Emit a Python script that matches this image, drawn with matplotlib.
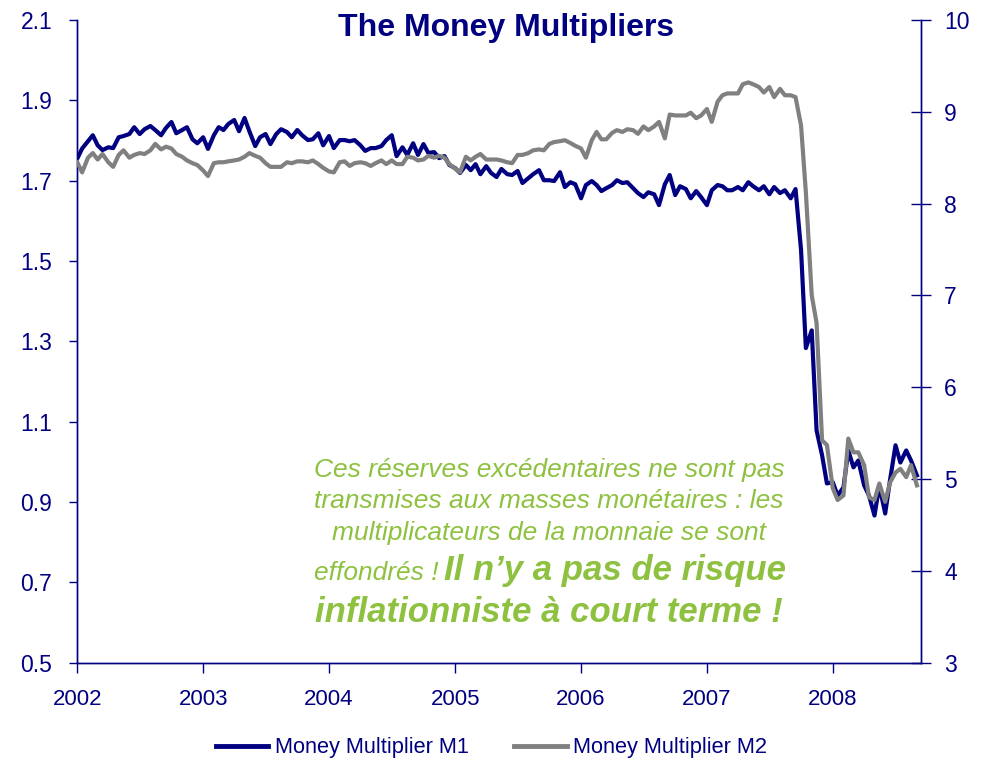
import matplotlib
matplotlib.use("Agg")
import matplotlib.pyplot as plt
from matplotlib.lines import Line2D
import pandas as pd

plt.rcParams['font.family'] = ['Liberation Sans', 'DejaVu Sans']

# semi-monthly observations, Jan 2002 - Sep 2008
dates = pd.date_range('2002-01-01', '2008-09-01', freq='SMS')

m1 = [1.755, 1.780, 1.798, 1.813, 1.788, 1.776, 1.783, 1.781, 1.808, 1.811,
      1.816, 1.833, 1.816, 1.828, 1.836, 1.826, 1.813, 1.831, 1.846, 1.818,
      1.826, 1.833, 1.803, 1.793, 1.808, 1.779, 1.813, 1.833, 1.826, 1.841,
      1.851, 1.823, 1.856, 1.823, 1.786, 1.808, 1.816, 1.791, 1.816, 1.828,
      1.821, 1.808, 1.826, 1.813, 1.801, 1.803, 1.818, 1.788, 1.811, 1.781,
      1.801, 1.801, 1.798, 1.801, 1.788, 1.774, 1.781, 1.781, 1.786, 1.801,
      1.813, 1.761, 1.783, 1.764, 1.793, 1.764, 1.791, 1.769, 1.771, 1.756,
      1.761, 1.739, 1.731, 1.719, 1.739, 1.726, 1.741, 1.716, 1.736, 1.719,
      1.709, 1.729, 1.716, 1.714, 1.724, 1.694, 1.706, 1.716, 1.726, 1.701,
      1.701, 1.699, 1.721, 1.684, 1.696, 1.691, 1.656, 1.689, 1.699, 1.689,
      1.674, 1.681, 1.689, 1.701, 1.694, 1.696, 1.681, 1.669, 1.659, 1.671,
      1.666, 1.639, 1.691, 1.714, 1.664, 1.686, 1.679, 1.656, 1.674, 1.659,
      1.639, 1.676, 1.689, 1.686, 1.676, 1.676, 1.684, 1.676, 1.696, 1.686,
      1.676, 1.686, 1.666, 1.684, 1.669, 1.676, 1.656, 1.679, 1.527, 1.283,
      1.327, 1.078, 1.016, 0.946, 0.949, 0.916, 0.936, 1.028, 0.986, 1.003,
      0.941, 0.916, 0.866, 0.941, 0.871, 0.954, 1.041, 0.998, 1.028, 1.003,
      0.966]

m2 = [8.45, 8.34, 8.50, 8.55, 8.48, 8.54, 8.45, 8.40, 8.53, 8.58,
      8.50, 8.53, 8.55, 8.54, 8.58, 8.65, 8.59, 8.62, 8.60, 8.54,
      8.51, 8.47, 8.44, 8.42, 8.36, 8.30, 8.44, 8.45, 8.45, 8.46,
      8.47, 8.48, 8.51, 8.55, 8.52, 8.50, 8.44, 8.40, 8.40, 8.40,
      8.45, 8.44, 8.46, 8.46, 8.45, 8.47, 8.43, 8.39, 8.35, 8.34,
      8.45, 8.46, 8.41, 8.44, 8.45, 8.44, 8.41, 8.44, 8.47, 8.43,
      8.47, 8.43, 8.43, 8.51, 8.50, 8.47, 8.48, 8.52, 8.50, 8.52,
      8.50, 8.43, 8.38, 8.34, 8.51, 8.47, 8.51, 8.54, 8.48, 8.48,
      8.48, 8.47, 8.45, 8.44, 8.53, 8.53, 8.55, 8.58, 8.59, 8.58,
      8.65, 8.67, 8.68, 8.69, 8.66, 8.63, 8.60, 8.50, 8.69, 8.78,
      8.70, 8.70, 8.77, 8.80, 8.78, 8.81, 8.80, 8.76, 8.84, 8.80,
      8.84, 8.89, 8.71, 8.97, 8.96, 8.96, 8.96, 8.99, 8.93, 8.96,
      9.03, 8.89, 9.11, 9.18, 9.20, 9.20, 9.20, 9.30, 9.32, 9.30,
      9.27, 9.21, 9.27, 9.16, 9.25, 9.18, 9.18, 9.16, 8.85, 8.12,
      7.00, 6.70, 5.42, 5.37, 4.90, 4.77, 4.82, 5.44, 5.29, 5.29,
      5.15, 4.80, 4.77, 4.95, 4.75, 4.96, 5.07, 5.11, 5.02, 5.15,
      4.93]

years = [2002, 2003, 2004, 2005, 2006, 2007, 2008]
left_ticks = [0.5, 0.7, 0.9, 1.1, 1.3, 1.5, 1.7, 1.9, 2.1]
right_ticks = [3, 4, 5, 6, 7, 8, 9, 10]
series_names = ['Money Multiplier M1', 'Money Multiplier M2']

NAVY = '#000080'
GREY = '#808080'
GREEN = '#8DC13F'

fig = plt.figure(figsize=(9.82, 7.62), dpi=100)
ax = fig.add_axes([77.3 / 982, 1 - 662.5 / 762, (920.7 - 77.3) / 982, (662.5 - 20) / 762])
ax2 = ax.twinx()

ax.plot(dates, m1, color=NAVY, lw=3.0, solid_joinstyle='round', zorder=3)
ax2.plot(dates, m2, color=GREY, lw=3.0, solid_joinstyle='round', zorder=3)

ax.set_xlim(pd.Timestamp('2002-01-01'), pd.Timestamp('2008-09-12'))
ax.set_ylim(0.5, 2.1)
ax2.set_ylim(3, 10)
ax.set_yticks(left_ticks)
ax.set_yticklabels([f'{v:.1f}' for v in left_ticks])
ax2.set_yticks(right_ticks)
ax2.set_yticklabels([str(v) for v in right_ticks])
ax.set_xticks([pd.Timestamp(f'{y}-01-01') for y in years])
ax.set_xticklabels([str(y) for y in years])

for a in (ax, ax2):
    a.spines['top'].set_visible(False)
    for s in ('left', 'right', 'bottom'):
        a.spines[s].set_color(NAVY)
        a.spines[s].set_linewidth(1.0)
    a.set_facecolor('none')

ax.tick_params(axis='y', direction='out', length=6, width=1, color=NAVY,
               labelcolor=NAVY, labelsize=16.5, pad=12)
ax2.tick_params(axis='y', direction='inout', length=14, width=1, color=NAVY,
                labelcolor=NAVY, labelsize=16.5, pad=10)
ax.tick_params(axis='x', direction='out', length=7, width=1, color=NAVY,
               labelcolor=NAVY, labelsize=16, pad=12)

fig.text(506 / 982, 1 - 28 / 762, 'The Money Multipliers', ha='center', va='center',
         fontsize=23, fontweight='bold', color=NAVY)

# annotation text
cx = 549 / 982
norm = dict(fontsize=19, style='italic', color=GREEN, va='baseline')
fig.text(cx, 1 - 476.7 / 762, 'Ces réserves excédentaires ne sont pas', ha='center', **norm)
fig.text(cx, 1 - 508 / 762, 'transmises aux masses monétaires : les', ha='center', **norm)
fig.text(cx, 1 - 540 / 762, 'multiplicateurs de la monnaie se sont', ha='center', **norm)
fig.text(439 / 982, 1 - 580 / 762, 'effondrés !', ha='right', **norm)
bold = dict(fontsize=25, style='italic', fontweight='bold', color=GREEN, va='baseline')
fig.text(444 / 982, 1 - 580 / 762, 'Il n’y a pas de risque', ha='left', **bold)
fig.text(cx, 1 - 621.7 / 762, 'inflationniste à court terme !', ha='center', **bold)

handles = [Line2D([], [], color=NAVY, lw=3.5), Line2D([], [], color=GREY, lw=3.5)]
leg = fig.legend(handles, series_names, loc='center', bbox_to_anchor=(491.5 / 982, 1 - 748 / 762),
                 ncol=2, frameon=False, fontsize=15.7, handlelength=2.4, handletextpad=0.3,
                 columnspacing=2.1)
for t in leg.get_texts():
    t.set_color(NAVY)

fig.savefig('out.png', dpi=100)
